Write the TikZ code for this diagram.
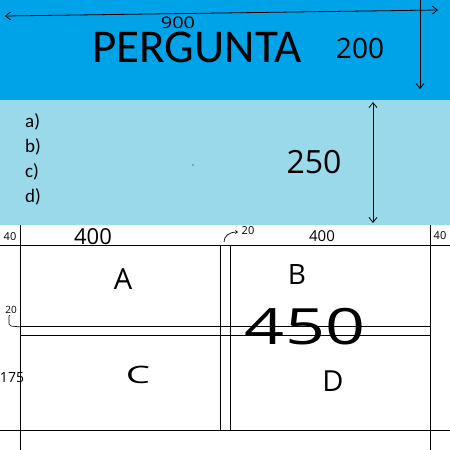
\documentclass[tikz,border=0pt]{standalone}
\usepackage{fontspec}
\setmainfont{Carlito}
\newfontfamily\hand{Open Sans}
\usetikzlibrary{arrows.meta}
\definecolor{darkblue}{HTML}{00A2E8}
\definecolor{lightblue}{HTML}{99D9EA}
\begin{document}
\begin{tikzpicture}[x=1pt,y=-1pt,
  grid/.style={line width=0.9pt,black},
  hw/.style={inner sep=0pt,font=\hand,text=black},
  arr/.style={line width=0.8pt,-{Straight Barb[length=5pt,width=8pt]}},
  darr/.style={line width=0.8pt,{Straight Barb[length=5pt,width=8pt]}-{Straight Barb[length=5pt,width=8pt]}}]
\useasboundingbox (0,0) rectangle (450,450);
\fill[white] (0,0) rectangle (450,450);
\fill[darkblue] (0,0) rectangle (450,100);
\fill[lightblue] (0,100) rectangle (450,225);
% question text
\node[inner sep=0pt,anchor=base,font=\fontsize{47}{50}\selectfont] (q) at (197,62) {PERGUNTA};
\foreach \t/\y/\n in {a)/127/oa,b)/152/ob,c)/177/oc,d)/202/od}
  \node[inner sep=0pt,anchor=base west,font=\fontsize{19}{22}\selectfont] (\n) at (25,\y) {\t};
\fill[black] (193,165) circle (0.7);
% dimension arrows top
\coordinate (tl) at (5,16);
\coordinate (tr) at (438,10);
\draw[darr] (tl) -- (tr);
\coordinate (vt) at (420,0);
\coordinate (vb) at (420,89);
\draw[arr] (vt) -- (vb);
\node[hw,anchor=base,font=\hand\fontsize{16}{17}\selectfont,xscale=1.25] (n900) at (178,28) {900};
\node[hw,font=\hand\fontsize{28}{30}\selectfont] (n200) at (360,48) {200};
\coordinate (mt) at (373,102);
\coordinate (mb) at (373,223);
\draw[darr] (mt) -- (mb);
\node[hw,font=\hand\fontsize{32}{34}\selectfont] (n250) at (314,162) {250};
% grid
\draw[grid] (0,245) -- (450,245);
\draw[grid] (0,430) -- (450,430);
\draw[grid] (20,326) -- (431,326);
\draw[grid] (20,335) -- (430,335);
\draw[grid] (20,225) -- (20,450);
\draw[grid] (430,225) -- (430,450);
\draw[grid] (220,245) -- (220,430);
\draw[grid] (230,245) -- (230,430);
% grid labels
\node[hw,font=\hand\fontsize{11}{12}\selectfont] (l40a) at (10,237) {40};
\node[hw,font=\hand\fontsize{22}{24}\selectfont] (l400a) at (93,237) {400};
\node[hw,font=\hand\fontsize{11}{12}\selectfont] (l20a) at (248,231) {20};
\coordinate (c20s) at (224,242);
\coordinate (c20e) at (238,232);
\draw[line width=0.7pt,-{Straight Barb[length=2pt,width=3pt]}] (c20s) .. controls (224,236) and (229,232) .. (c20e);
\node[hw,font=\hand\fontsize{15}{16}\selectfont] (l400b) at (322,236) {400};
\node[hw,font=\hand\fontsize{11}{12}\selectfont] (l40b) at (440,236) {40};
\node[hw,font=\hand\fontsize{10}{11}\selectfont] (l20b) at (11,310) {20};
\coordinate (b1) at (10,315);
\coordinate (b2) at (21,327);
\draw[line width=0.7pt] (b1) -- (9,316) -- (9,324) -- (11,326) -- (b2);
\node[hw,font=\hand\fontsize{14}{15}\selectfont] (l175) at (12,378) {175};
\node[hw,font=\hand\fontsize{29}{30}\selectfont] (lA) at (123,279) {A};
\node[hw,font=\hand\fontsize{28}{30}\selectfont] (lB) at (297,275) {B};
\node[hw,font=\hand\fontsize{24}{26}\selectfont,xscale=1.6] (lC) at (138,375) {C};
\node[hw,font=\hand\fontsize{29}{30}\selectfont] (lD) at (333,381) {D};
\node[hw,font=\hand\fontsize{50}{52}\selectfont,xscale=1.4] (l450) at (305,327) {450};
\end{tikzpicture}
\end{document}
